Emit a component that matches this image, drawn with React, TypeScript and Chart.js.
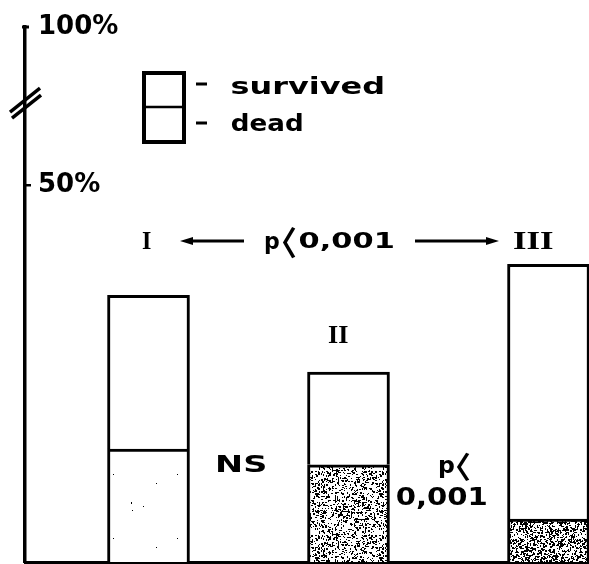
import React, { useEffect, useRef } from 'react';
import { Chart, registerables } from 'chart.js';

Chart.register(...registerables);

// ---- data ----
const categories = ['I', 'II', 'III'];
const deadValues = [15.0, 12.9, 5.7];
const survivedValues = [20.4, 12.3, 33.8];
const yTickValues = [50, 71];
const yTickLabels = ['50%', '100%'];
const seriesNames = ['survived', 'dead'];
const overallTest = ['p', '〈', '0,001'];
const pairTestLeft = 'NS';
const pairTestRight = ['p', '〈', '0,001'];

function stipple(density: number, seed: number, size = 64): CanvasPattern | string {
  const c = document.createElement('canvas');
  c.width = size;
  c.height = size;
  const g = c.getContext('2d');
  if (!g) return '#ccc';
  g.fillStyle = '#fff';
  g.fillRect(0, 0, size, size);
  g.fillStyle = '#000';
  let s = seed >>> 0;
  const rnd = () => {
    s = (Math.imul(s, 1664525) + 1013904223) >>> 0;
    return s / 4294967296;
  };
  const n = Math.round(size * size * density);
  for (let i = 0; i < n; i++) {
    const x = Math.floor(rnd() * size);
    const y = Math.floor(rnd() * size);
    const w = rnd() < 0.35 ? 2 : 1;
    const h = rnd() < 0.35 ? 2 : 1;
    g.fillRect(x, y, w, h);
  }
  return g.createPattern(c, 'repeat') || '#ccc';
}

function fitX(ctx: CanvasRenderingContext2D, text: string, font: string, left: number, right: number, baseline: number) {
  ctx.save();
  ctx.font = font;
  ctx.textAlign = 'left';
  ctx.textBaseline = 'alphabetic';
  const m = ctx.measureText(text);
  const inkW = m.actualBoundingBoxLeft + m.actualBoundingBoxRight;
  const sx = (right - left) / inkW;
  ctx.translate(left + m.actualBoundingBoxLeft * sx, baseline);
  ctx.scale(sx, 1);
  ctx.fillStyle = '#000';
  ctx.fillText(text, 0, 0);
  ctx.restore();
}

function fitBox(ctx: CanvasRenderingContext2D, text: string, font: string, left: number, top: number, right: number, bottom: number) {
  ctx.save();
  ctx.font = font;
  ctx.textAlign = 'left';
  ctx.textBaseline = 'alphabetic';
  const m = ctx.measureText(text);
  const inkW = m.actualBoundingBoxLeft + m.actualBoundingBoxRight;
  const inkH = m.actualBoundingBoxAscent + m.actualBoundingBoxDescent;
  const sx = (right - left) / inkW;
  const sy = (bottom - top) / inkH;
  ctx.translate(left + m.actualBoundingBoxLeft * sx, top + m.actualBoundingBoxAscent * sy);
  ctx.scale(sx, sy);
  ctx.fillStyle = '#000';
  ctx.fillText(text, 0, 0);
  ctx.restore();
}

function line(ctx: CanvasRenderingContext2D, x1: number, y1: number, x2: number, y2: number, w = 3) {
  ctx.save();
  ctx.strokeStyle = '#000';
  ctx.lineWidth = w;
  ctx.lineCap = 'butt';
  ctx.beginPath();
  ctx.moveTo(x1, y1);
  ctx.lineTo(x2, y2);
  ctx.stroke();
  ctx.restore();
}

function arrow(ctx: CanvasRenderingContext2D, tailX: number, tipX: number, y: number) {
  const dir = tipX > tailX ? 1 : -1;
  line(ctx, tailX, y, tipX - dir * 8, y, 3);
  ctx.save();
  ctx.fillStyle = '#000';
  ctx.beginPath();
  ctx.moveTo(tipX, y);
  ctx.lineTo(tipX - dir * 13, y - 4);
  ctx.lineTo(tipX - dir * 13, y + 4);
  ctx.closePath();
  ctx.fill();
  ctx.restore();
}

const ROMAN = 'bold 24px "Liberation Serif"';
const NUM = 'bold 22px "DejaVu Sans"';
const BRACKET = 'bold 32px "Noto Sans CJK SC"';

const annotations = {
  id: 'annotations',
  afterDraw(chart: any) {
    const ctx: CanvasRenderingContext2D = chart.ctx;
    const ys = chart.scales.y;
    const axisX = chart.chartArea.left;

    // axis decorations: top hook, 50% tick, axis break
    line(ctx, axisX - 3, ys.getPixelForValue(yTickValues[1]), axisX + 4, ys.getPixelForValue(yTickValues[1]), 3);
    line(ctx, axisX, ys.getPixelForValue(yTickValues[0]), axisX + 6, ys.getPixelForValue(yTickValues[0]), 2.5);
    const by = ys.getPixelForValue(61.3);
    line(ctx, axisX - 15, by + 12, axisX + 15, by - 12, 3.5);
    line(ctx, axisX - 13, by + 18, axisX + 16, by - 5, 3.5);

    // legend
    ctx.save();
    ctx.fillStyle = '#fff';
    ctx.fillRect(144, 73, 40, 69);
    ctx.strokeStyle = '#000';
    ctx.lineWidth = 4;
    ctx.strokeRect(144, 73, 40, 69);
    ctx.restore();
    line(ctx, 144, 107, 184, 107, 2.5);
    line(ctx, 196, 84, 207, 84, 3);
    line(ctx, 196, 123, 207, 123, 3);
    fitX(ctx, seriesNames[0], 'bold 23px "DejaVu Sans"', 232, 383, 94);
    fitX(ctx, seriesNames[1], 'bold 23px "DejaVu Sans"', 232, 302, 131);

    // group labels
    fitBox(ctx, categories[0], ROMAN, 142, 233, 151, 249);
    fitBox(ctx, categories[1], ROMAN, 328, 327, 348, 343);
    fitBox(ctx, categories[2], ROMAN, 513, 233, 553, 249);

    // overall test with arrows
    arrow(ctx, 244, 180, 241);
    arrow(ctx, 415, 499, 241);
    fitBox(ctx, overallTest[0], NUM, 265, 236, 279, 253);
    fitBox(ctx, overallTest[1], BRACKET, 282, 226, 296, 258);
    fitX(ctx, overallTest[2], NUM, 300, 393, 248);

    // pairwise tests
    fitBox(ctx, pairTestLeft, 'bold 23px "DejaVu Sans"', 218, 455, 265, 472);
    fitBox(ctx, pairTestRight[0], NUM, 439, 460, 454, 477);
    fitBox(ctx, pairTestRight[1], BRACKET, 456, 452, 470, 481);
    fitX(ctx, pairTestRight[2], 'bold 24px "DejaVu Sans"', 397, 487, 505);
  },
};

export default function App() {
  const ref = useRef<HTMLCanvasElement | null>(null);

  useEffect(() => {
    if (!ref.current) return;
    const deadFills = [stipple(0.0012, 7), stipple(0.2, 11), stipple(0.3, 23)];
    const chart = new Chart(ref.current, {
      type: 'bar',
      data: {
        datasets: [
          {
            label: seriesNames[1],
            data: deadValues.map((v, i) => ({ x: i, y: v })),
            backgroundColor: deadFills as any,
            borderColor: '#000',
            borderWidth: 3,
            barThickness: 82,
            stack: 's',
          },
          {
            label: seriesNames[0],
            data: survivedValues.map((v, i) => ({ x: i, y: v })),
            backgroundColor: '#fff',
            borderColor: '#000',
            borderWidth: 3,
            barThickness: 82,
            stack: 's',
          },
        ],
      },
      options: {
        animation: false,
        responsive: true,
        maintainAspectRatio: false,
        layout: { padding: { left: 25, top: 27, right: 0, bottom: 2 } },
        plugins: { legend: { display: false }, tooltip: { enabled: false } },
        scales: {
          x: {
            type: 'linear',
            min: -0.6175,
            max: 2.2025,
            offset: false,
            stacked: true,
            grid: { display: false, drawTicks: false, tickLength: 0 },
            ticks: { display: false },
            border: { display: true, color: '#000', width: 3 },
          },
          y: {
            type: 'linear',
            stacked: true,
            min: 0,
            max: 71,
            afterBuildTicks: (s: any) => {
              s.ticks = yTickValues.map((v) => ({ value: v }));
            },
            afterFit: (s: any) => {
              s.width = 0;
              s.paddingTop = 0;
              s.paddingBottom = 0;
            },
            ticks: {
              mirror: true,
              padding: 13,
              color: '#000',
              font: { family: 'DejaVu Sans', size: 26, weight: 'bold' },
              callback: (v: any) => {
                const i = yTickValues.indexOf(Number(v));
                return i >= 0 ? yTickLabels[i] : '';
              },
            },
            grid: { display: false, drawTicks: false, tickLength: 0 },
            border: { display: true, color: '#000', width: 3.5 },
          },
        },
      } as any,
      plugins: [annotations],
    });
    return () => chart.destroy();
  }, []);

  return (
    <div style={{ position: 'fixed', left: 0, top: 0, width: 589, height: 564, background: '#fff' }}>
      <canvas ref={ref} />
    </div>
  );
}
